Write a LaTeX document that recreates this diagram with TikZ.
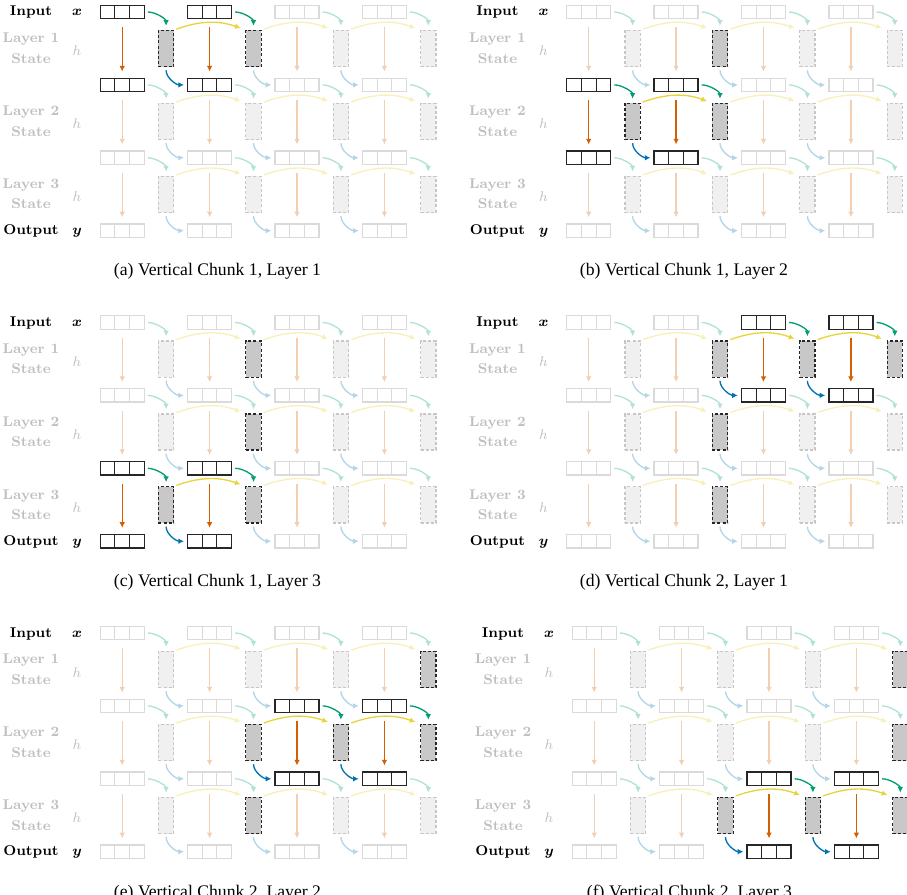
\documentclass[tikz,border=0pt]{standalone}
\usepackage{amsmath}
\usepackage{fontspec}
\newfontfamily\capfont{Liberation Serif}
\usetikzlibrary{arrows.meta}

\definecolor{vermil}{HTML}{D55E00}
\definecolor{bgreen}{HTML}{009E73}
\definecolor{sunyel}{HTML}{E8D43A}
\definecolor{skyblue}{HTML}{0072B2}
\definecolor{faintline}{HTML}{DADADA}
\definecolor{statefill}{HTML}{C8C8C8}
\definecolor{statefaint}{HTML}{F0F0F0}
\definecolor{labelgray}{HTML}{BFBFBF}

\tikzstyle{cellbox}=[rectangle,draw,minimum width=24.9pt,minimum height=7.6pt,inner sep=0pt,line width=0.7pt,
  path picture={\foreach \k in {-1,1} \draw[line width=0.6pt] ([xshift=\k*4.15pt]path picture bounding box.north) -- ([xshift=\k*4.15pt]path picture bounding box.south);}]
\tikzstyle{cellbox1}=[cellbox,color=black!85]
\tikzstyle{cellbox0}=[cellbox,color=faintline]
\tikzstyle{statebox}=[rectangle,minimum width=8.7pt,minimum height=20.5pt,inner sep=0pt,line width=0.7pt,dash pattern=on 1.7pt off 1.2pt]
\tikzstyle{statebox1}=[statebox,draw=black!85,fill=statefill]
\tikzstyle{statebox0}=[statebox,draw=black!22,fill=statefaint]
\tikzstyle{flow}=[line width=0.75pt,-{Latex[length=3.2pt,width=3.2pt]}]
\tikzstyle{down1}=[flow,vermil]
\tikzstyle{down0}=[flow,vermil!30]
\tikzstyle{feed1}=[flow,bgreen]
\tikzstyle{feed0}=[flow,bgreen!30]
\tikzstyle{carry1}=[flow,sunyel]
\tikzstyle{carry0}=[flow,sunyel!35]
\tikzstyle{emit1}=[flow,skyblue]
\tikzstyle{emit0}=[flow,skyblue!30]
\tikzstyle{rowlabel}=[font=\footnotesize\bfseries,anchor=base]
\tikzstyle{layerlabel}=[font=\footnotesize\bfseries,align=center,text=labelgray]
\tikzstyle{varlabel}=[font=\footnotesize,anchor=base]
\tikzstyle{subcaption}=[font=\capfont,anchor=base]

\begin{document}
\begin{tikzpicture}[x=0.566pt,y=-0.566pt]
  \useasboundingbox (0,0) rectangle (907,895);
  \foreach \px/\py/\sub/\ch/\lay in {0/0/a/1/1, 466.5/0/b/1/2, 0/310.5/c/1/3,
      466.5/310.5/d/2/1, 0/621/e/2/2, 472/621/f/2/3} {
    \begin{scope}[shift={(\px,\py)}]
      \pgfmathtruncatemacro{\lo}{2*\ch-1}
      \pgfmathtruncatemacro{\hi}{2*\ch}
      % labels
      \node[rowlabel] (\sub-in) at (31,16) {Input};
      \node[varlabel] (\sub-x) at (77,16) {$\boldsymbol{x}$};
      \foreach \s in {1,2,3} {
        \node[layerlabel] (\sub-lab\s) at (31,{48.2+72.9*(\s-1)}) {Layer \s\\[2.1pt]State};
        \node[varlabel,text=labelgray] (\sub-h\s) at (77,{56+72.9*(\s-1)}) {$h$};
      }
      \node[rowlabel] (\sub-out) at (31,234.7) {Output};
      \node[varlabel] (\sub-y) at (77,234.7) {$\boldsymbol{y}$};
      % vectors
      \foreach \r in {0,...,3}
        \foreach \i in {1,...,4} {
          \pgfmathtruncatemacro{\on}{(\r==\lay || \r==(\lay-1)) && \i>=\lo && \i<=\hi}
          \node[cellbox\on] (\sub-b\r\i) at ({122.2+87.4*(\i-1)},{12+72.9*\r}) {};
        }
      % states
      \foreach \s in {1,2,3}
        \foreach \i in {1,...,4} {
          \pgfmathtruncatemacro{\on}{(\s==\lay && \i>=\lo && \i<=\hi) || (\ch==1 && \s<\lay && \i==2) || (\ch==2 && \s>=\lay && \i==2) || (\ch==2 && \s<\lay && \i==4)}
          \node[statebox\on] (\sub-s\s\i) at ({166.1+87.4*(\i-1)},{48.6+72.9*(\s-1)}) {};
        }
      % arrows
      \foreach \s in {1,2,3}
        \foreach \i in {1,...,4} {
          \pgfmathtruncatemacro{\up}{\s-1}
          \pgfmathtruncatemacro{\on}{\s==\lay && \i>=\lo && \i<=\hi}
          \draw[down\on,shorten <=4.5pt,shorten >=3.4pt] (\sub-b\up\i.south) -- (\sub-b\s\i.north);
          \draw[feed\on,shorten <=1.7pt,shorten >=2.3pt] (\sub-b\up\i.east) to[out=0,in=90] (\sub-s\s\i.north);
        }
      \foreach \s in {1,2,3}
        \foreach \i in {1,2,3} {
          \pgfmathtruncatemacro{\nx}{\i+1}
          \pgfmathtruncatemacro{\on}{\s==\lay && \nx>=\lo && \nx<=\hi}
          \draw[carry\on,shorten <=1.2pt,shorten >=2.8pt] (\sub-s\s\i.north east) to[bend left=20] (\sub-s\s\nx.north west);
          \draw[emit\on,shorten <=1.7pt,shorten >=1.7pt] (\sub-s\s\i.south) to[out=-90,in=180] (\sub-b\s\nx.west);
        }
      \node[subcaption] (\sub-cap) at (217.5,276) {(\sub) Vertical Chunk \ch, Layer \lay};
    \end{scope}
  }
\end{tikzpicture}
\end{document}
